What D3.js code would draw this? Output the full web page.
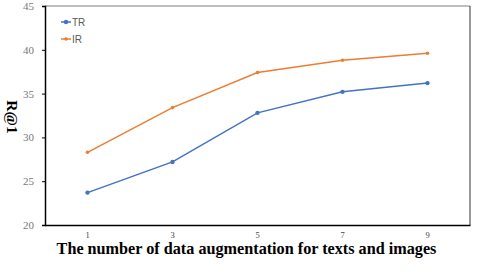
<!DOCTYPE html>
<html>
<head>
<meta charset="utf-8">
<script src="https://cdn.jsdelivr.net/npm/d3@7"></script>
<style>
  body { margin: 0; background: #fff; }
</style>
</head>
<body>
<svg id="chart" width="485" height="273"></svg>
<script>
var categories = ["1", "3", "5", "7", "9"];
var trValues = [23.7, 27.2, 32.8, 35.2, 36.2];
var irValues = [28.3, 33.4, 37.4, 38.8, 39.6];
var yTicks = [20, 25, 30, 35, 40, 45];
var seriesNames = ["TR", "IR"];
var seriesColors = ["#4472C4", "#ED7D31"];

var svg = d3.select("#chart");
var pLeft = 45, pTop = 6, pRight = 470, pBottom = 225;

var x = d3.scaleBand().domain(categories).range([pLeft, pRight]);
var y = d3.scaleLinear().domain([20, 45]).range([pBottom, pTop]);

// frame: top light, right dark
svg.append("line").attr("x1", pLeft).attr("x2", pRight).attr("y1", pTop).attr("y2", pTop)
    .attr("stroke", "#7f7f7f").attr("stroke-width", 1);
svg.append("line").attr("x1", pRight).attr("x2", pRight).attr("y1", pTop).attr("y2", pBottom)
    .attr("stroke", "#333").attr("stroke-width", 1);

var yAxis = svg.append("g")
    .attr("transform", "translate(" + pLeft + ",0)")
    .call(d3.axisLeft(y).tickValues(yTicks).tickSize(3).tickPadding(8));
yAxis.select(".domain").attr("stroke", "#000").attr("stroke-width", 1.5);
yAxis.selectAll(".tick line").attr("stroke", "#000");
yAxis.selectAll("text")
    .attr("font-family", "Liberation Serif, serif")
    .attr("font-size", 11).attr("fill", "#777");

var xAxis = svg.append("g")
    .attr("transform", "translate(0," + pBottom + ")")
    .call(d3.axisBottom(x).tickSize(0).tickPadding(7));
xAxis.select(".domain").attr("stroke", "#000").attr("stroke-width", 1.5);
xAxis.selectAll("text")
    .attr("font-family", "Liberation Serif, serif")
    .attr("font-size", 8.5).attr("fill", "#444");

var allSeries = [trValues, irValues];
var line = d3.line()
    .x(function (d, i) { return x(categories[i]) + x.bandwidth() / 2; })
    .y(function (d) { return y(d); });

allSeries.forEach(function (vals, s) {
  svg.append("path").datum(vals)
      .attr("d", line)
      .attr("fill", "none")
      .attr("stroke", seriesColors[s])
      .attr("stroke-width", 1.5);
  svg.selectAll(".pt" + s).data(vals).enter().append("circle")
      .attr("cx", function (d, i) { return x(categories[i]) + x.bandwidth() / 2; })
      .attr("cy", function (d) { return y(d); })
      .attr("r", s === 0 ? 2.2 : 1.8)
      .attr("fill", seriesColors[s]);
});

// legend
seriesNames.forEach(function (name, i) {
  var ly = 22 + i * 17;
  svg.append("line").attr("x1", 61).attr("x2", 71).attr("y1", ly).attr("y2", ly)
      .attr("stroke", seriesColors[i]).attr("stroke-width", 1.5);
  svg.append("circle").attr("cx", 66).attr("cy", ly).attr("r", i === 0 ? 2.2 : 1.8)
      .attr("fill", seriesColors[i]);
  svg.append("text").attr("x", 72).attr("y", ly + 4)
      .attr("font-family", "Liberation Sans, Arial, sans-serif")
      .attr("font-size", 10).attr("fill", "#595959")
      .text(name);
});

svg.append("text")
    .attr("x", 246.5).attr("y", 254)
    .attr("text-anchor", "middle")
    .attr("font-family", "Liberation Serif, serif")
    .attr("font-weight", "bold").attr("font-size", 16.2)
    .text("The number of data augmentation for texts and images");

svg.append("text")
    .attr("transform", "translate(7,117) rotate(90)")
    .attr("text-anchor", "middle")
    .attr("font-family", "Liberation Serif, serif")
    .attr("font-weight", "bold").attr("font-size", 15.5)
    .text("R@1");
</script>
</body>
</html>
